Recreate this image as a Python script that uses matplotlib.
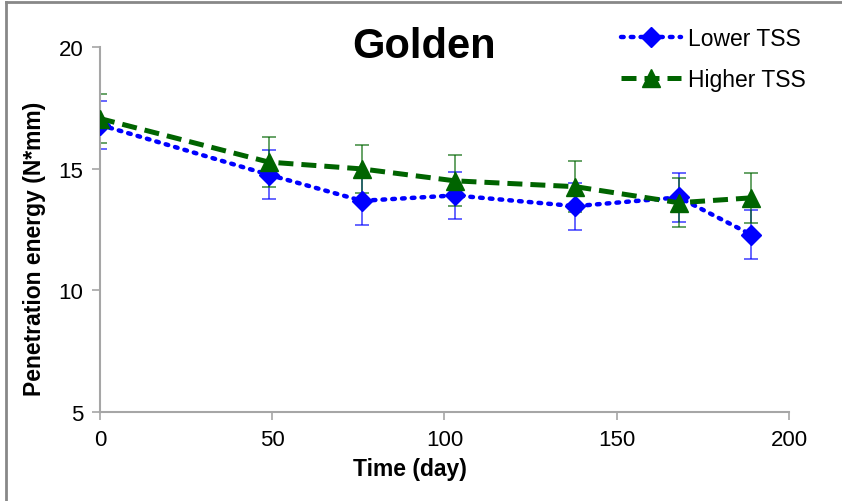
import matplotlib
matplotlib.use("Agg")
import matplotlib.pyplot as plt
from matplotlib.lines import Line2D

plt.rcParams['font.family'] = ['Liberation Sans', 'DejaVu Sans']

days = [0, 49, 76, 103, 138, 168, 189]
lower_tss = [16.8, 14.75, 13.68, 13.9, 13.46, 13.82, 12.29]
lower_err = [1.0, 1.0, 1.0, 0.95, 0.97, 1.0, 1.0]
higher_tss = [17.06, 15.27, 14.99, 14.5, 14.26, 13.6, 13.8]
higher_err = [1.0, 1.02, 1.0, 1.05, 1.05, 1.0, 1.03]

fig = plt.figure(figsize=(8.42, 5.02), dpi=100)
ax = fig.add_axes([100/842, 1-413/502, 689/842, 365/502])

blue = '#0000FF'
green = '#006400'

ax.errorbar(days, lower_tss, yerr=lower_err, fmt='none', ecolor=blue, alpha=0.7,
            elinewidth=1.2, capsize=5, capthick=1.2, zorder=2)
ax.errorbar(days, higher_tss, yerr=higher_err, fmt='none', ecolor=green, alpha=0.7,
            elinewidth=1.2, capsize=5, capthick=1.2, zorder=2)

ax.plot(days, lower_tss, color=blue, linestyle=(0, (0.6, 1.6)), linewidth=3.2,
        dash_capstyle='round', marker='D', markersize=10, markerfacecolor=blue,
        markeredgecolor=blue, label='Lower TSS', zorder=3)
ax.plot(days, higher_tss, color=green, linestyle=(0, (3, 1.6)), linewidth=3.6,
        marker='^', markersize=13, markerfacecolor=green, markeredgecolor=green,
        label='Higher TSS', zorder=4)

ax.set_xlim(0, 200)
ax.set_ylim(5, 20)
ax.set_xticks([0, 50, 100, 150, 200])
ax.set_yticks([5, 10, 15, 20])

for s in ['top', 'right']:
    ax.spines[s].set_visible(False)
for s in ['left', 'bottom']:
    ax.spines[s].set_color('#A6A6A6')
    ax.spines[s].set_linewidth(1.5)
ax.tick_params(axis='both', direction='out', length=6, width=1.2, color='#A6A6A6',
               labelsize=16, labelcolor='black', pad=6)

ax.set_xlabel('Time (day)', fontsize=16.5, fontweight='bold')
ax.xaxis.set_label_coords((410-100)/689, -(458-413)/365)
ax.set_ylabel('Penetration energy (N*mm)', fontsize=16.5, fontweight='bold')
ax.yaxis.set_label_coords(-(100-46)/689, (413-249)/365)

fig.text(424/842, 1-47/502, 'Golden', fontsize=30, fontweight='bold',
         ha='center', va='center')

leg = ax.legend(loc='upper right', bbox_to_anchor=(1.054, 1.11), frameon=False,
                fontsize=16.5, handlelength=2.6, labelspacing=0.75, handletextpad=0.3)

fig.add_artist(Line2D([6/842, 6/842], [0, 1-3/502], transform=fig.transFigure,
                      color='#888888', linewidth=2))
fig.add_artist(Line2D([6/842, 1], [1-3/502, 1-3/502], transform=fig.transFigure,
                      color='#888888', linewidth=2))

fig.savefig('out.png', dpi=100)
